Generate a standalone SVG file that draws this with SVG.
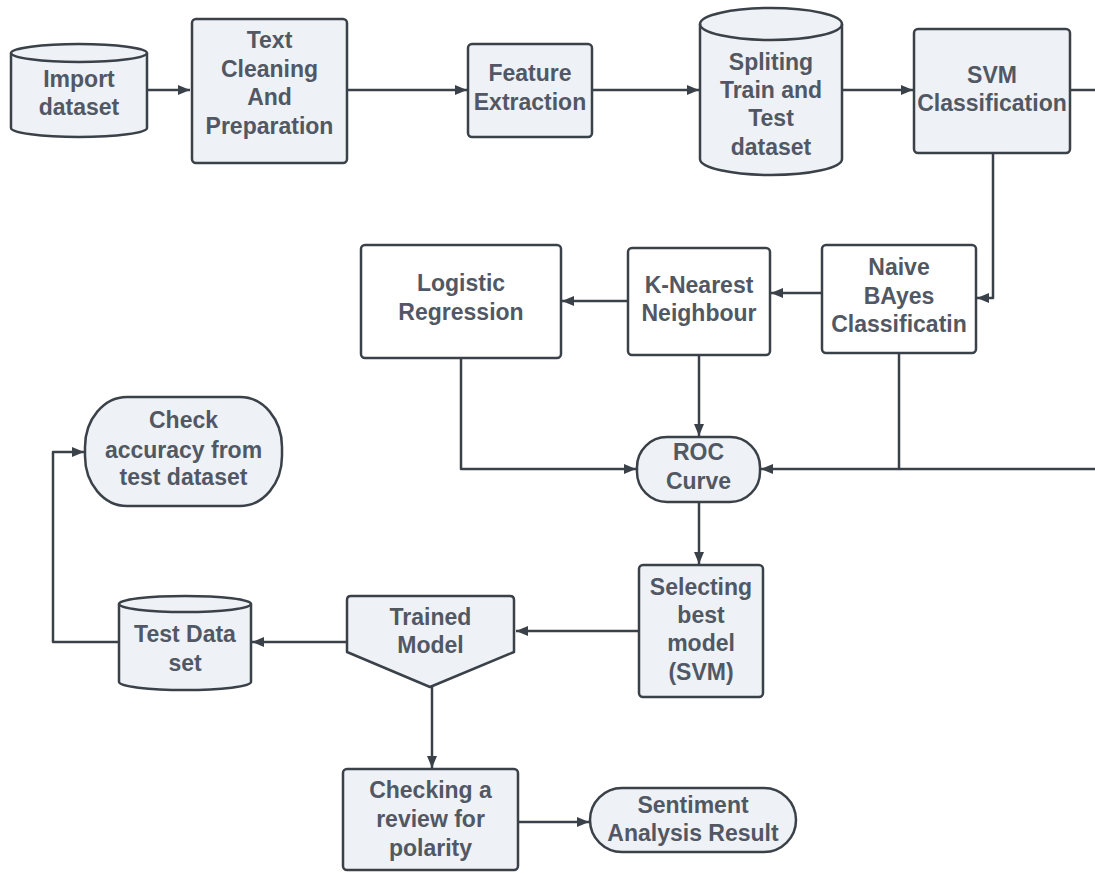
<svg xmlns="http://www.w3.org/2000/svg" width="1095" height="873" viewBox="0 0 1095 873">
<style>
.n{fill:#eef1f5;stroke:#3b4149;stroke-width:2.5;stroke-linejoin:round}
.w{fill:#ffffff;stroke:#3b4149;stroke-width:2.5}
.c{fill:none;stroke:#3b4149;stroke-width:2.5;stroke-linejoin:round}
.t{font-family:"Liberation Sans",Arial,sans-serif;font-weight:bold;font-size:23px;fill:#515864;text-anchor:middle}
</style>
<defs>
<marker id="ah" viewBox="0 0 12 10" refX="12" refY="5" markerWidth="12" markerHeight="10" markerUnits="userSpaceOnUse" orient="auto">
<path d="M0,0 L12,5 L0,10 Z" fill="#3b4149"/>
</marker>
</defs>
<rect width="1095" height="873" fill="#ffffff"/>
<g id="connectors">
<path class="c" d="M147,90 H190" marker-end="url(#ah)"/>
<path class="c" d="M347,90 H467" marker-end="url(#ah)"/>
<path class="c" d="M592,90 H699" marker-end="url(#ah)"/>
<path class="c" d="M842,90 H913" marker-end="url(#ah)"/>
<path class="c" d="M1070,90 H1095"/>
<path class="c" d="M993,153 V298 H977" marker-end="url(#ah)"/>
<path class="c" d="M822,293 H771" marker-end="url(#ah)"/>
<path class="c" d="M628,301 H562" marker-end="url(#ah)"/>
<path class="c" d="M699,355 V436" marker-end="url(#ah)"/>
<path class="c" d="M461,358 V469 H636" marker-end="url(#ah)"/>
<path class="c" d="M899,353 V469 H761" marker-end="url(#ah)"/>
<path class="c" d="M1095,469 H899"/>
<path class="c" d="M699,502 V564" marker-end="url(#ah)"/>
<path class="c" d="M639,631 H516" marker-end="url(#ah)"/>
<path class="c" d="M347,642 H252" marker-end="url(#ah)"/>
<path class="c" d="M119,642 H53 V452 H84" marker-end="url(#ah)"/>
<path class="c" d="M432,687 V768" marker-end="url(#ah)"/>
<path class="c" d="M518,822 H589" marker-end="url(#ah)"/>
</g>
<g id="import-dataset">
<path class="n" d="M11,53 A68,9 0 0 1 147,53 V128 A68,9 0 0 1 11,128 Z"/>
<path class="c" d="M11,53 A68,9 0 0 0 147,53"/>
<text class="t" x="79" y="87">Import</text>
<text class="t" x="79" y="115">dataset</text>
</g>
<g id="text-cleaning">
<rect class="n" x="192" y="19" width="155" height="144" rx="4"/>
<text class="t" x="269.5" y="48">Text</text>
<text class="t" x="269.5" y="76.5">Cleaning</text>
<text class="t" x="269.5" y="105">And</text>
<text class="t" x="269.5" y="133.5">Preparation</text>
</g>
<g id="feature-extraction">
<rect class="n" x="468" y="44" width="124" height="93" rx="4"/>
<text class="t" x="530" y="81">Feature</text>
<text class="t" x="530" y="110">Extraction</text>
</g>
<g id="spliting">
<path class="n" d="M700,24 A71,16 0 0 1 842,24 V159 A71,16 0 0 1 700,159 Z"/>
<path class="c" d="M700,24 A71,16 0 0 0 842,24"/>
<text class="t" x="771" y="70">Spliting</text>
<text class="t" x="771" y="98">Train and</text>
<text class="t" x="771" y="126">Test</text>
<text class="t" x="771" y="155">dataset</text>
</g>
<g id="svm-classification">
<rect class="n" x="914" y="29" width="156" height="124" rx="4"/>
<text class="t" x="992" y="83">SVM</text>
<text class="t" x="992" y="111">Classification</text>
</g>
<g id="naive-bayes">
<rect class="w" x="822" y="245" width="154" height="108" rx="4"/>
<text class="t" x="899" y="275">Naive</text>
<text class="t" x="899" y="304">BAyes</text>
<text class="t" x="899" y="332">Classificatin</text>
</g>
<g id="knn">
<rect class="w" x="628" y="248" width="142" height="107" rx="4"/>
<text class="t" x="699" y="293">K-Nearest</text>
<text class="t" x="699" y="321">Neighbour</text>
</g>
<g id="logistic-regression">
<rect class="w" x="361" y="245" width="200" height="113" rx="4"/>
<text class="t" x="461" y="291">Logistic</text>
<text class="t" x="461" y="320">Regression</text>
</g>
<g id="roc-curve">
<rect class="n" x="637" y="437" width="123" height="65" rx="30" ry="30"/>
<text class="t" x="698.5" y="460">ROC</text>
<text class="t" x="698.5" y="489">Curve</text>
</g>
<g id="selecting-best-model">
<rect class="n" x="639" y="565" width="124" height="132" rx="4"/>
<text class="t" x="701" y="595">Selecting</text>
<text class="t" x="701" y="623">best</text>
<text class="t" x="701" y="651">model</text>
<text class="t" x="701" y="680">(SVM)</text>
</g>
<g id="trained-model">
<path class="n" d="M351,596 H510 Q514,596 514,600 V652 L430,687 L347,652 V600 Q347,596 351,596 Z"/>
<text class="t" x="430.5" y="625">Trained</text>
<text class="t" x="430.5" y="653">Model</text>
</g>
<g id="test-data-set">
<path class="n" d="M119,604 A66,8 0 0 1 251,604 V682 A66,8 0 0 1 119,682 Z"/>
<path class="c" d="M119,604 A66,8 0 0 0 251,604"/>
<text class="t" x="185" y="642">Test Data</text>
<text class="t" x="185" y="671">set</text>
</g>
<g id="check-accuracy">
<rect class="n" x="85" y="397" width="197" height="109" rx="42" ry="50"/>
<text class="t" x="183.5" y="428">Check</text>
<text class="t" x="183.5" y="458">accuracy from</text>
<text class="t" x="183.5" y="485">test dataset</text>
</g>
<g id="checking-review">
<rect class="n" x="343" y="769" width="175" height="101" rx="4"/>
<text class="t" x="430.5" y="798">Checking a</text>
<text class="t" x="430.5" y="827">review for</text>
<text class="t" x="430.5" y="856">polarity</text>
</g>
<g id="sentiment-result">
<rect class="n" x="590" y="788" width="206" height="64" rx="32" ry="32"/>
<text class="t" x="693" y="813">Sentiment</text>
<text class="t" x="693" y="841">Analysis Result</text>
</g>
</svg>
